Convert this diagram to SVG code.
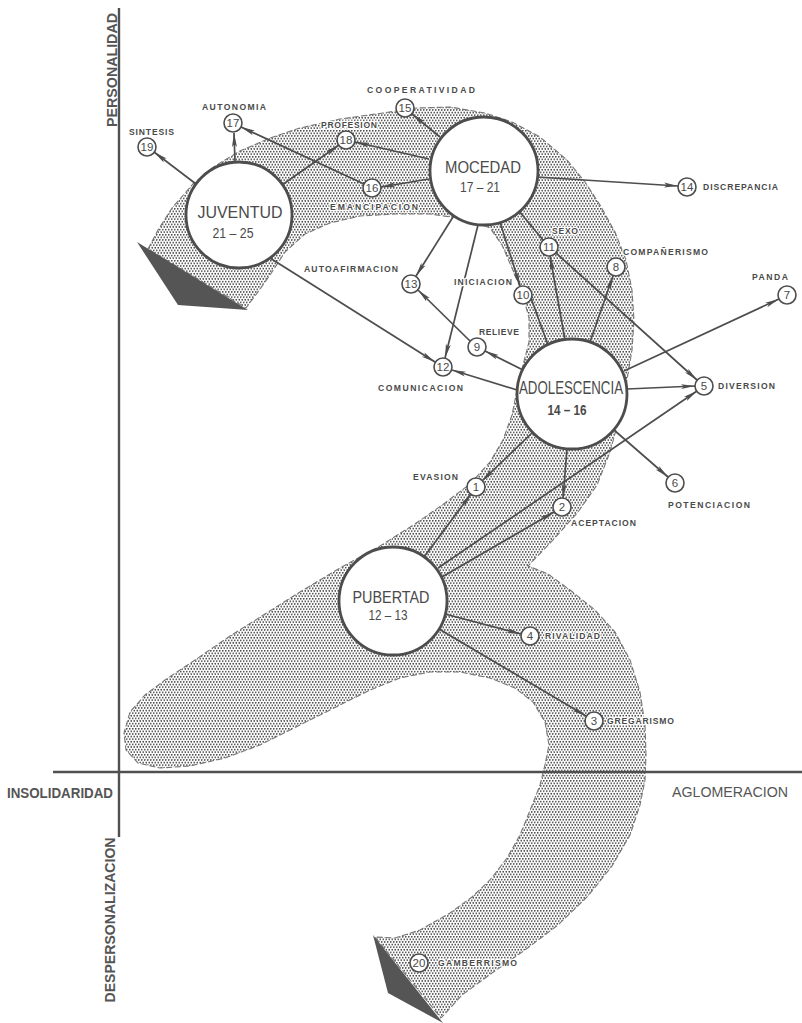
<svg xmlns="http://www.w3.org/2000/svg" width="802" height="1023" viewBox="0 0 802 1023">
<defs>
<pattern id="stipple" patternUnits="userSpaceOnUse" width="3" height="5.2">
<circle cx="0.75" cy="0.75" r="0.9" fill="#4a4a4a"/>
<circle cx="2.25" cy="3.35" r="0.9" fill="#4a4a4a"/>
</pattern>
<marker id="arr" markerUnits="userSpaceOnUse" markerWidth="18" markerHeight="9" refX="14" refY="4.5" orient="auto">
<path d="M0,2 L14,4.5 L0,7 L3,4.5 Z" fill="#4d4d4d"/>
</marker>
</defs>
<style>
.band{fill:url(#stipple);stroke:#777;stroke-width:1.1;stroke-dasharray:6 2.5}
.tri{fill:#555}
.axis{stroke:#505050;stroke-width:2.4;fill:none}
.ax{font-family:"Liberation Sans",Arial,sans-serif;font-size:14px;font-weight:bold;fill:#555}
.axn{font-family:"Liberation Sans",Arial,sans-serif;font-size:14px;font-weight:normal;fill:#555}
.c{stroke:#4d4d4d;stroke-width:1.7;fill:none;marker-end:url(#arr)}
.plain{stroke:#4d4d4d;stroke-width:1.7;fill:none}
.big{fill:#fff;stroke:#4d4d4d;stroke-width:2.8}
.bt{font-family:"Liberation Sans",Arial,sans-serif;fill:#4a4a4a;text-anchor:middle}
.sm{fill:#fff;stroke:#4d4d4d;stroke-width:1.6}
.num{font-family:"Liberation Sans",Arial,sans-serif;font-size:11.5px;fill:#4a4a4a;text-anchor:middle}
.lb{font-family:"Liberation Sans",Arial,sans-serif;font-size:8.6px;font-weight:bold;fill:#4a4a4a;paint-order:stroke;stroke:#fff;stroke-width:2.4;stroke-linejoin:round}
</style>
<rect width="802" height="1023" fill="#fff"/>

<g id="band">
<path class="band" d="M148,249 L158,230 L172,208 L193,184 L215,166 L240,151 L270,138 L300,128 L340,119 L383,113 L417,108 L450,107 L485,113 L512,122 L540,137 L567,160 L585,182 L600,205 L615,232 L626,260 L632,290 L634,320 L632,350 L627,380 L620,415 L610,452 L597,485 L578,512 L553,540 L528,566 L548,574 L570,590 L595,610 L615,632 L630,660 L640,692 L645,725 L646,755 L645,780 L640,805 L630,835 L612,866 L588,896 L558,925 L525,950 L492,973 L462,995 L441,1018 L375,937 L395,938 L420,930 L450,913 L472,897 L490,880 L507,858 L520,835 L531,808 L540,785 L545,765 L549,745 L545,722 L533,702 L515,688 L490,678 L460,672 L430,672 L400,678 L370,690 L340,705 L300,725 L260,745 L225,758 L190,766 L160,768 L138,763 L126,750 L124,733 L130,712 L145,695 L165,680 L195,660 L230,636 L265,614 L300,592 L340,568 L380,546 L415,524 L445,503 L470,484 L490,462 L503,440 L512,415 L517,390 L523,365 L529,342 L529,318 L522,292 L512,268 L502,245 L490,228 L465,219 L430,214 L395,214 L360,216 L330,223 L305,234 L285,252 L270,275 L255,296 L246,308 Z"/>
<polygon class="tri" points="137,242 178,305 248,310"/>
<polygon class="tri" points="373,935 388,993 443,1023"/>
</g>

<g id="axes">
<line class="axis" x1="119" y1="8" x2="119" y2="837"/>
<line class="axis" x1="53" y1="772" x2="802" y2="772"/>
<text class="ax" transform="translate(117,70) rotate(-90)" text-anchor="middle" textLength="114" lengthAdjust="spacingAndGlyphs">PERSONALIDAD</text>
<text class="ax" transform="translate(115,920) rotate(-90)" text-anchor="middle" textLength="165" lengthAdjust="spacingAndGlyphs">DESPERSONALIZACION</text>
<text class="ax" x="7" y="798" textLength="106" lengthAdjust="spacingAndGlyphs">INSOLIDARIDAD</text>
<text class="axn" x="672" y="797" textLength="116" lengthAdjust="spacingAndGlyphs">AGLOMERACION</text>
</g>

<g id="connectors">
<line class="c" x1="196" y1="184" x2="154" y2="152"/>
<line class="c" x1="235" y1="162" x2="234" y2="133"/>
<line class="c" x1="282" y1="185" x2="339" y2="145"/>
<line class="c" x1="364" y1="184" x2="241" y2="127"/>
<line class="c" x1="429" y1="179" x2="381" y2="187"/>
<line class="c" x1="429" y1="159" x2="355" y2="142"/>
<line class="c" x1="440" y1="137" x2="412" y2="114"/>
<line class="c" x1="453" y1="217" x2="416" y2="276"/>
<line class="c" x1="478" y1="225" x2="445" y2="358"/>
<line class="c" x1="500" y1="222" x2="520" y2="286"/>
<line class="plain" x1="519" y1="211" x2="543" y2="240"/>
<line class="c" x1="537" y1="177" x2="678" y2="186"/>
<line class="c" x1="270" y1="258" x2="435" y2="362"/>
<line class="c" x1="470" y1="341" x2="418" y2="290"/>
<line class="c" x1="523" y1="370" x2="485" y2="351"/>
<line class="c" x1="517" y1="390" x2="452" y2="370"/>
<line class="c" x1="548" y1="345" x2="527" y2="287"/>
<line class="c" x1="565" y1="340" x2="550" y2="256"/>
<line class="c" x1="590" y1="342" x2="613" y2="276"/>
<line class="c" x1="556" y1="253" x2="697" y2="380"/>
<line class="c" x1="624" y1="371" x2="779" y2="299"/>
<line class="c" x1="627" y1="389" x2="695" y2="386"/>
<line class="c" x1="438" y1="568" x2="697" y2="391"/>
<line class="c" x1="442" y1="577" x2="554" y2="512"/>
<line class="c" x1="424" y1="557" x2="471" y2="494"/>
<line class="c" x1="533" y1="432" x2="482" y2="481"/>
<line class="c" x1="567" y1="449" x2="563" y2="498"/>
<line class="c" x1="614" y1="430" x2="668" y2="477"/>
<line class="c" x1="445" y1="614" x2="521" y2="634"/>
<line class="c" x1="439" y1="629" x2="586" y2="716"/>
</g>

<g id="juventud">
<circle class="big" cx="239" cy="215" r="53"/>
<text class="bt" x="240" y="218" font-size="17" textLength="85" lengthAdjust="spacingAndGlyphs">JUVENTUD</text>
<text class="bt" x="233" y="238" font-size="14" textLength="41" lengthAdjust="spacingAndGlyphs">21 – 25</text>
</g>
<g id="mocedad">
<circle class="big" cx="484" cy="171" r="54"/>
<text class="bt" x="483" y="173" font-size="16" textLength="76" lengthAdjust="spacingAndGlyphs">MOCEDAD</text>
<text class="bt" x="480" y="192" font-size="14" textLength="40" lengthAdjust="spacingAndGlyphs">17 – 21</text>
</g>
<g id="adolescencia">
<circle class="big" cx="572" cy="394" r="55"/>
<text class="bt" x="571" y="394" font-size="18" textLength="104" lengthAdjust="spacingAndGlyphs">ADOLESCENCIA</text>
<text class="bt" x="567" y="415" font-size="14" font-weight="bold" textLength="39" lengthAdjust="spacingAndGlyphs">14 – 16</text>
</g>
<g id="pubertad">
<circle class="big" cx="393" cy="601" r="54"/>
<text class="bt" x="391" y="603" font-size="16" textLength="77" lengthAdjust="spacingAndGlyphs">PUBERTAD</text>
<text class="bt" x="388" y="620" font-size="14" textLength="39" lengthAdjust="spacingAndGlyphs">12 – 13</text>
</g>

<g id="n1"><circle class="sm" cx="476" cy="487" r="9"/><text class="num" x="476" y="491">1</text><text class="lb" x="413" y="480" textLength="45">EVASION</text></g>
<g id="n2"><circle class="sm" cx="562" cy="507" r="9"/><text class="num" x="562" y="511">2</text><text class="lb" x="571" y="526" textLength="65">ACEPTACION</text></g>
<g id="n3"><circle class="sm" cx="594" cy="721" r="9"/><text class="num" x="594" y="725">3</text><text class="lb" x="607" y="724" textLength="67">GREGARISMO</text></g>
<g id="n4"><circle class="sm" cx="530" cy="636" r="9"/><text class="num" x="530" y="640">4</text><text class="lb" x="545" y="639" textLength="55">RIVALIDAD</text></g>
<g id="n5"><circle class="sm" cx="704" cy="386" r="9"/><text class="num" x="704" y="390">5</text><text class="lb" x="718" y="389" textLength="57">DIVERSION</text></g>
<g id="n6"><circle class="sm" cx="675" cy="483" r="9"/><text class="num" x="675" y="487">6</text><text class="lb" x="668" y="508" textLength="82">POTENCIACION</text></g>
<g id="n7"><circle class="sm" cx="787" cy="295" r="9"/><text class="num" x="787" y="299">7</text><text class="lb" x="752" y="280" textLength="36">PANDA</text></g>
<g id="n8"><circle class="sm" cx="616" cy="267" r="9"/><text class="num" x="616" y="271">8</text><text class="lb" x="623" y="255" textLength="85">COMPAÑERISMO</text></g>
<g id="n9"><circle class="sm" cx="477" cy="347" r="9"/><text class="num" x="477" y="351">9</text><text class="lb" x="479" y="335" textLength="40">RELIEVE</text></g>
<g id="n10"><circle class="sm" cx="523" cy="295" r="9"/><text class="num" x="523" y="299">10</text><text class="lb" x="454" y="285" textLength="58">INICIACION</text></g>
<g id="n11"><circle class="sm" cx="549" cy="247" r="9"/><text class="num" x="549" y="251">11</text><text class="lb" x="552" y="234" textLength="26">SEXO</text></g>
<g id="n12"><circle class="sm" cx="443" cy="367" r="9"/><text class="num" x="443" y="371">12</text><text class="lb" x="378" y="391" textLength="85">COMUNICACION</text></g>
<g id="n13"><circle class="sm" cx="411" cy="284" r="9"/><text class="num" x="411" y="288">13</text><text class="lb" x="304" y="272" textLength="94">AUTOAFIRMACION</text></g>
<g id="n14"><circle class="sm" cx="687" cy="187" r="9"/><text class="num" x="687" y="191">14</text><text class="lb" x="703" y="190" textLength="75">DISCREPANCIA</text></g>
<g id="n15"><circle class="sm" cx="405" cy="108" r="9"/><text class="num" x="405" y="112">15</text><text class="lb" x="367" y="93" textLength="108">COOPERATIVIDAD</text></g>
<g id="n16"><circle class="sm" cx="372" cy="188" r="9"/><text class="num" x="372" y="192">16</text><text class="lb" x="330" y="210" textLength="88">EMANCIPACION</text></g>
<g id="n17"><circle class="sm" cx="233" cy="123" r="9"/><text class="num" x="233" y="127">17</text><text class="lb" x="202" y="110" textLength="64">AUTONOMIA</text></g>
<g id="n18"><circle class="sm" cx="346" cy="140" r="9"/><text class="num" x="346" y="144">18</text><text class="lb" x="321" y="128" textLength="56">PROFESION</text></g>
<g id="n19"><circle class="sm" cx="147" cy="147" r="9"/><text class="num" x="147" y="151">19</text><text class="lb" x="129" y="135" textLength="45">SINTESIS</text></g>
<g id="n20"><circle class="sm" cx="419" cy="963" r="9"/><text class="num" x="419" y="967">20</text><text class="lb" x="438" y="966" textLength="79">GAMBERRISMO</text></g>
</svg>
